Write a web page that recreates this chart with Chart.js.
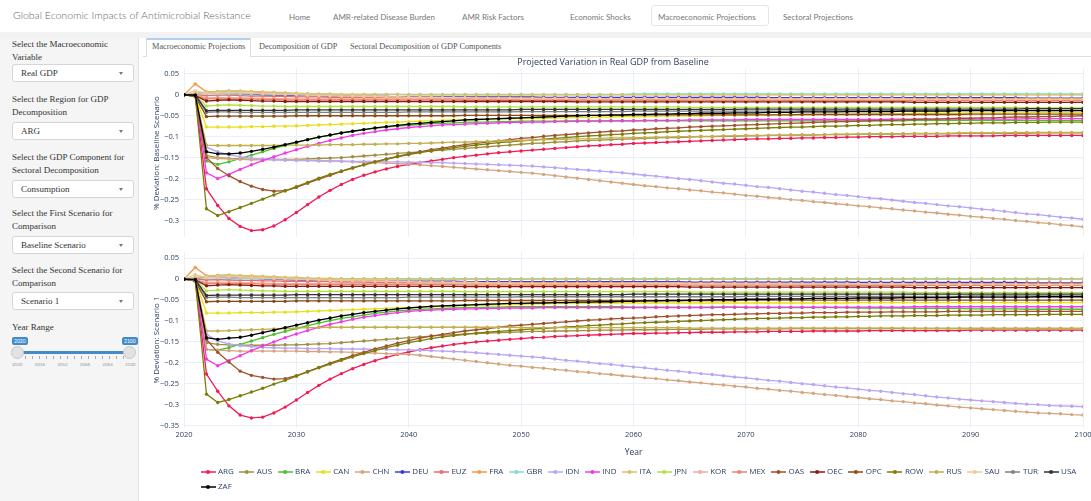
<!DOCTYPE html>
<html><head><meta charset="utf-8">
<script src="https://cdn.jsdelivr.net/npm/chart.js@4.4.1/dist/chart.umd.min.js"></script>
<style>
*{box-sizing:border-box}
html,body{margin:0;padding:0;background:#fff;width:1091px;height:501px;overflow:hidden;position:relative}
.a{position:absolute;white-space:nowrap}
#brand{left:13px;top:9px;font-family:Lato,sans-serif;font-weight:300;font-size:10.5px;color:#666}
.nv{top:12px;font-family:Lato,sans-serif;font-size:8px;color:#777}
#navact{left:651px;top:5px;width:118px;height:21px;border:1px solid #e6e6e6;border-radius:3px;background:#fff}
#band{left:0;top:32px;width:1091px;height:6px;background:#f2f2f2}
#side{left:0;top:38px;width:139px;height:463px;background:#f5f5f5;border-right:1px solid #e3e3e3}
.lb{left:12px;font-family:'Liberation Serif',serif;font-size:9px;color:#333}
.sl{left:12px;width:122px;height:18px;background:#fff;border:1px solid #d6d6d6;border-radius:3px;font-family:'Liberation Serif',serif;font-size:9px;color:#333;padding:3px 0 0 8px}
.sl:after{content:'';position:absolute;right:10px;top:7px;border-left:2.5px solid transparent;border-right:2.5px solid transparent;border-top:3px solid #777}
.tab{top:42px;font-family:'Liberation Serif',serif;font-size:8.3px;color:#555}
#tabline{left:143px;top:56px;width:948px;height:1px;background:#ddd}
#tabact{left:146px;top:38px;width:105px;height:19px;background:#fff;border:1px solid #ddd;border-top:2px solid #b5d0ea;border-bottom:none}
.sv{font-family:Lato,sans-serif;font-size:5px;color:#fff;background:#428bca;border-radius:2px;padding:0 2px;height:8px;line-height:8px;top:337px}
</style></head>
<body>
<div class="a" id="brand">Global Economic Impacts of Antimicrobial Resistance</div>
<div class="a nv" style="left:289px">Home</div>
<div class="a nv" style="left:333px">AMR-related Disease Burden</div>
<div class="a nv" style="left:462px">AMR Risk Factors</div>
<div class="a nv" style="left:570px">Economic Shocks</div>
<div class="a" id="navact"></div>
<div class="a nv" style="left:658px">Macroeconomic Projections</div>
<div class="a nv" style="left:783px">Sectoral Projections</div>
<div class="a" id="band"></div>
<div class="a" id="side"></div>
<div class="a lb" style="top:39px">Select the Macroeconomic</div>
<div class="a lb" style="top:52px">Variable</div>
<div class="a sl" style="top:64px">Real GDP</div>
<div class="a lb" style="top:94px">Select the Region for GDP</div>
<div class="a lb" style="top:107px">Decomposition</div>
<div class="a sl" style="top:122px">ARG</div>
<div class="a lb" style="top:152px">Select the GDP Component for</div>
<div class="a lb" style="top:165px">Sectoral Decomposition</div>
<div class="a sl" style="top:180px">Consumption</div>
<div class="a lb" style="top:208px">Select the First Scenario for</div>
<div class="a lb" style="top:221px">Comparison</div>
<div class="a sl" style="top:236px">Baseline Scenario</div>
<div class="a lb" style="top:265px">Select the Second Scenario for</div>
<div class="a lb" style="top:278px">Comparison</div>
<div class="a sl" style="top:292px">Scenario 1</div>
<div class="a lb" style="top:322px">Year Range</div>
<div class="a sv" style="left:12px">2020</div>
<div class="a sv" style="left:122px">2100</div>
<div class="a" style="left:18px;top:351px;width:112px;height:3px;background:#428bca;border-radius:2px"></div>
<div class="a" style="left:18px;top:356px;width:113px;height:3px;background:repeating-linear-gradient(90deg,#aaa 0 1px,transparent 1px 7px)"></div>
<div class="a" style="left:11px;top:346px;width:13px;height:13px;border-radius:50%;background:#e2e2e2;border:1px solid #c8c8c8"></div>
<div class="a" style="left:123px;top:346px;width:13px;height:13px;border-radius:50%;background:#e2e2e2;border:1px solid #c8c8c8"></div>
<div class="a" style="left:12px;top:362px;font-family:Lato,sans-serif;font-size:4.5px;color:#999;word-spacing:11px">2020 2036 2052 2068 2084 2100</div>
<div class="a" id="tabline"></div>
<div class="a" id="tabact"></div>
<div class="a tab" style="left:152px">Macroeconomic Projections</div>
<div class="a tab" style="left:259px">Decomposition of GDP</div>
<div class="a tab" style="left:350px">Sectoral Decomposition of GDP Components</div>
<canvas id="c1" class="a" style="left:143px;top:53px" width="948" height="186"></canvas>
<canvas id="c2" class="a" style="left:143px;top:247px" width="948" height="254"></canvas>
<script>
const years=[2020,2021,2022,2023,2024,2025,2026,2027,2028,2029,2030,2031,2032,2033,2034,2035,2036,2037,2038,2039,2040,2041,2042,2043,2044,2045,2046,2047,2048,2049,2050,2051,2052,2053,2054,2055,2056,2057,2058,2059,2060,2061,2062,2063,2064,2065,2066,2067,2068,2069,2070,2071,2072,2073,2074,2075,2076,2077,2078,2079,2080,2081,2082,2083,2084,2085,2086,2087,2088,2089,2090,2091,2092,2093,2094,2095,2096,2097,2098,2099,2100];
const countries=['ARG','AUS','BRA','CAN','CHN','DEU','EUZ','FRA','GBR','IDN','IND','ITA','JPN','KOR','MEX','OAS','OEC','OPC','ROW','RUS','SAU','TUR','USA','ZAF'];
const colors=['#f21c55','#a08f42','#4cbf2c','#e6df1a','#d6a57e','#3a3ae0','#e66e6e','#f09a4a','#7fdccb','#b9a6f5','#f03ce6','#d6c26a','#b5e040','#f5aaa0','#e3896a','#a0522d','#8b1a10','#8b4a13','#7b7d08','#c2b04e','#f2c49e','#7f7f7f','#333333','#000000'];
const xTicks=[2020,2030,2040,2050,2060,2070,2080,2090,2100];
const yTicksTop=[0.05,0,-0.05,-0.1,-0.15,-0.2,-0.25,-0.3];
const yTicksBottom=[0.05,0,-0.05,-0.1,-0.15,-0.2,-0.25,-0.3,-0.35];
const chartTitle='Projected Variation in Real GDP from Baseline';
const yTitleTop='% Deviation: Baseline Scenario';
const yTitleBottom='% Deviation: Scenario 1';
const xTitle='Year';

// ---- Baseline Scenario ----
const base_ARG=[0,-.002,-.224,-.264,-.295,-.314,-.324,-.322,-.313,-.298,
-.281,-.262,-.244,-.228,-.214,-.202,-.192,-.184,-.177,-.171,
-.166,-.162,-.158,-.154,-.150,-.147,-.144,-.141,-.138,-.136,
-.134,-.132,-.130,-.128,-.126,-.124,-.122,-.121,-.119,-.118,
-.116,-.115,-.114,-.113,-.112,-.111,-.110,-.109,-.108,-.107,
-.106,-.105,-.105,-.104,-.104,-.103,-.103,-.102,-.102,-.101,
-.101,-.100,-.100,-.100,-.099,-.099,-.099,-.099,-.098,-.098,
-.098,-.098,-.098,-.097,-.097,-.097,-.097,-.097,-.097,-.097,
-.097];
const base_AUS=[0,-.002,-.145,-.150,-.152,-.153,-.154,-.154,-.154,-.154,
-.154,-.153,-.152,-.151,-.150,-.148,-.146,-.144,-.142,-.140,
-.138,-.136,-.134,-.132,-.130,-.128,-.126,-.124,-.122,-.120,
-.118,-.116,-.115,-.113,-.112,-.110,-.109,-.108,-.107,-.106,
-.105,-.104,-.103,-.102,-.102,-.101,-.100,-.100,-.099,-.099,
-.098,-.098,-.097,-.097,-.096,-.096,-.096,-.095,-.095,-.095,
-.094,-.094,-.094,-.094,-.093,-.093,-.093,-.093,-.093,-.092,
-.092,-.092,-.092,-.092,-.092,-.092,-.091,-.091,-.091,-.091,
-.091];
const base_BRA=[0,-.003,-.158,-.166,-.160,-.152,-.144,-.136,-.128,-.121,
-.114,-.107,-.101,-.096,-.091,-.087,-.083,-.080,-.077,-.075,
-.073,-.071,-.069,-.068,-.067,-.066,-.065,-.065,-.064,-.064,
-.063,-.063,-.063,-.063,-.062,-.062,-.062,-.062,-.062,-.062,
-.062,-.062,-.062,-.062,-.062,-.062,-.062,-.062,-.062,-.062,
-.062,-.062,-.062,-.062,-.062,-.062,-.062,-.062,-.062,-.062,
-.062,-.062,-.062,-.062,-.062,-.061,-.061,-.061,-.061,-.061,
-.061,-.061,-.061,-.061,-.061,-.061,-.061,-.061,-.061,-.061,
-.061];
const base_CAN=[0,-.003,-.077,-.077,-.077,-.077,-.076,-.076,-.075,-.075,
-.074,-.073,-.072,-.071,-.070,-.069,-.068,-.067,-.066,-.065,
-.064,-.063,-.062,-.061,-.060,-.060,-.059,-.058,-.058,-.057,
-.057,-.056,-.056,-.055,-.055,-.054,-.054,-.053,-.053,-.052,
-.052,-.052,-.051,-.051,-.050,-.050,-.050,-.049,-.049,-.049,
-.048,-.048,-.048,-.047,-.047,-.047,-.047,-.046,-.046,-.046,
-.046,-.045,-.045,-.045,-.045,-.044,-.044,-.044,-.044,-.044,
-.043,-.043,-.043,-.043,-.043,-.043,-.042,-.042,-.042,-.042,
-.042];
const base_CHN=[0,-.003,-.150,-.152,-.153,-.154,-.155,-.155,-.155,-.155,
-.155,-.156,-.157,-.158,-.159,-.160,-.161,-.162,-.163,-.164,
-.165,-.167,-.169,-.171,-.173,-.175,-.177,-.179,-.181,-.183,
-.185,-.187,-.190,-.193,-.196,-.199,-.202,-.205,-.208,-.211,
-.214,-.217,-.219,-.222,-.224,-.227,-.229,-.232,-.234,-.237,
-.240,-.242,-.245,-.247,-.250,-.252,-.255,-.257,-.260,-.262,
-.265,-.267,-.270,-.272,-.275,-.277,-.280,-.282,-.285,-.287,
-.290,-.292,-.295,-.297,-.300,-.302,-.305,-.307,-.310,-.312,
-.315];
const base_DEU=[0,.002,.004,.004,.003,.002,.001,0,-.001,-.001,
-.002,-.002,-.003,-.003,-.003,-.004,-.004,-.004,-.004,-.005,
-.005,-.005,-.005,-.005,-.005,-.005,-.005,-.005,-.005,-.005,
-.005,-.005,-.006,-.006,-.006,-.006,-.006,-.006,-.006,-.006,
-.006,-.006,-.006,-.006,-.006,-.006,-.006,-.006,-.006,-.006,
-.006,-.006,-.007,-.007,-.007,-.007,-.007,-.007,-.007,-.007,
-.007,-.007,-.007,-.007,-.007,-.007,-.007,-.007,-.007,-.007,
-.007,-.007,-.007,-.007,-.007,-.008,-.008,-.008,-.008,-.008,
-.008];
const base_EUZ=[0,0,-.002,-.001,-.001,-.002,-.003,-.003,-.004,-.004,
-.005,-.005,-.005,-.006,-.006,-.006,-.006,-.007,-.007,-.007,
-.007,-.007,-.008,-.008,-.008,-.008,-.008,-.008,-.008,-.008,
-.008,-.008,-.008,-.008,-.008,-.009,-.009,-.009,-.009,-.009,
-.009,-.009,-.009,-.009,-.009,-.009,-.009,-.009,-.009,-.009,
-.009,-.009,-.009,-.009,-.009,-.010,-.010,-.010,-.010,-.010,
-.010,-.010,-.010,-.010,-.010,-.010,-.010,-.010,-.010,-.010,
-.010,-.010,-.010,-.010,-.010,-.010,-.010,-.010,-.010,-.010,
-.010];
const base_FRA=[0,.026,.007,.008,.009,.008,.007,.005,.004,.003,
.001,0,-.001,-.002,-.003,-.003,-.004,-.004,-.005,-.005,
-.006,-.006,-.006,-.007,-.007,-.007,-.007,-.008,-.008,-.008,
-.008,-.008,-.009,-.009,-.009,-.009,-.009,-.009,-.009,-.009,
-.009,-.009,-.009,-.009,-.009,-.010,-.010,-.010,-.010,-.010,
-.010,-.010,-.010,-.010,-.010,-.010,-.010,-.010,-.010,-.010,
-.010,-.010,-.010,-.010,-.010,-.010,-.010,-.010,-.010,-.010,
-.010,-.010,-.010,-.010,-.010,-.010,-.010,-.010,-.010,-.010,
-.010];
const base_GBR=[0,.003,.003,.003,.003,.002,.002,.002,.001,.001,
.001,.001,.001,.001,.001,.001,.001,.001,.001,.001,
.001,.001,.001,.001,.001,.001,.001,.001,.001,.001,
.001,.001,.001,.001,.001,.001,.001,.001,.001,.001,
.002,.002,.002,.002,.002,.002,.002,.002,.002,.002,
.002,.002,.002,.002,.002,.002,.002,.002,.002,.002,
.002,.002,.002,.002,.002,.002,.002,.002,.002,.002,
.002,.002,.002,.002,.002,.002,.002,.002,.002,.002,
.002];
const base_IDN=[0,-.002,-.125,-.136,-.143,-.148,-.151,-.153,-.155,-.156,
-.157,-.157,-.158,-.158,-.158,-.159,-.159,-.159,-.160,-.160,
-.161,-.161,-.162,-.162,-.163,-.164,-.165,-.166,-.167,-.168,
-.169,-.170,-.172,-.174,-.176,-.178,-.180,-.182,-.184,-.186,
-.189,-.192,-.194,-.197,-.200,-.202,-.205,-.208,-.211,-.213,
-.216,-.219,-.221,-.224,-.227,-.230,-.232,-.235,-.238,-.240,
-.243,-.246,-.248,-.251,-.254,-.257,-.259,-.262,-.265,-.267,
-.270,-.273,-.275,-.278,-.281,-.284,-.286,-.289,-.292,-.294,
-.297];
const base_IND=[0,-.002,-.186,-.200,-.190,-.178,-.167,-.157,-.148,-.139,
-.131,-.123,-.116,-.109,-.103,-.097,-.092,-.088,-.084,-.081,
-.078,-.076,-.074,-.072,-.071,-.070,-.069,-.068,-.067,-.066,
-.066,-.065,-.065,-.064,-.064,-.063,-.063,-.063,-.062,-.062,
-.062,-.061,-.061,-.061,-.061,-.060,-.060,-.060,-.060,-.060,
-.059,-.059,-.059,-.059,-.059,-.059,-.059,-.059,-.059,-.059,
-.059,-.059,-.059,-.058,-.058,-.058,-.058,-.058,-.058,-.058,
-.058,-.058,-.058,-.058,-.058,-.057,-.057,-.057,-.057,-.057,
-.057];
const base_ITA=[0,.004,.006,.008,.009,.009,.008,.007,.006,.005,
.004,.003,.002,.002,.001,.001,.001,.001,.001,.001,
0,0,0,0,0,0,0,0,0,0,
0,0,0,0,0,0,0,0,0,0,
0,0,0,0,0,0,0,0,0,0,
0,0,0,0,0,0,0,0,0,0,
0,0,0,0,0,0,0,0,0,0,
0,0,0,0,0,0,0,0,0,0,
0];
const base_JPN=[0,-.001,-.027,-.025,-.024,-.025,-.026,-.027,-.027,-.028,
-.028,-.028,-.028,-.028,-.028,-.028,-.028,-.028,-.028,-.028,
-.028,-.028,-.028,-.028,-.028,-.029,-.029,-.029,-.029,-.029,
-.029,-.029,-.029,-.029,-.029,-.029,-.029,-.029,-.029,-.029,
-.029,-.029,-.029,-.029,-.029,-.030,-.030,-.030,-.030,-.030,
-.030,-.030,-.030,-.030,-.030,-.030,-.030,-.030,-.030,-.030,
-.030,-.030,-.030,-.030,-.030,-.030,-.030,-.030,-.030,-.030,
-.030,-.030,-.030,-.030,-.030,-.031,-.031,-.031,-.031,-.031,
-.031];
const base_KOR=[0,-.001,-.007,-.006,-.006,-.007,-.008,-.008,-.009,-.009,
-.010,-.010,-.010,-.010,-.010,-.010,-.010,-.010,-.010,-.010,
-.010,-.010,-.010,-.010,-.010,-.011,-.011,-.011,-.011,-.011,
-.011,-.011,-.011,-.011,-.011,-.011,-.011,-.011,-.011,-.011,
-.011,-.011,-.011,-.011,-.011,-.012,-.012,-.012,-.012,-.012,
-.012,-.012,-.012,-.012,-.012,-.012,-.012,-.012,-.012,-.012,
-.012,-.012,-.012,-.012,-.012,-.012,-.012,-.012,-.012,-.012,
-.012,-.012,-.012,-.012,-.012,-.013,-.013,-.013,-.013,-.013,
-.013];
const base_MEX=[0,-.002,-.010,-.009,-.009,-.010,-.010,-.011,-.011,-.012,
-.012,-.012,-.012,-.012,-.012,-.012,-.012,-.012,-.012,-.012,
-.012,-.012,-.012,-.012,-.012,-.013,-.013,-.013,-.013,-.013,
-.013,-.013,-.013,-.013,-.013,-.013,-.013,-.013,-.013,-.013,
-.013,-.013,-.013,-.013,-.013,-.013,-.013,-.013,-.013,-.013,
-.013,-.013,-.013,-.013,-.013,-.014,-.014,-.014,-.014,-.014,
-.014,-.014,-.014,-.014,-.014,-.014,-.014,-.014,-.014,-.014,
-.014,-.014,-.014,-.014,-.014,-.014,-.014,-.014,-.014,-.014,
-.014];
const base_OAS=[0,-.004,-.150,-.176,-.193,-.207,-.218,-.226,-.230,-.229,
-.221,-.211,-.201,-.192,-.183,-.175,-.167,-.160,-.153,-.147,
-.141,-.136,-.131,-.127,-.123,-.119,-.116,-.113,-.110,-.107,
-.104,-.102,-.099,-.097,-.095,-.093,-.091,-.089,-.087,-.086,
-.084,-.083,-.081,-.080,-.079,-.077,-.076,-.075,-.074,-.073,
-.072,-.071,-.070,-.069,-.068,-.067,-.066,-.065,-.064,-.064,
-.063,-.062,-.061,-.061,-.060,-.059,-.058,-.058,-.057,-.056,
-.056,-.055,-.055,-.054,-.053,-.053,-.052,-.052,-.051,-.051,
-.050];
const base_OEC=[0,-.002,-.015,-.013,-.012,-.013,-.014,-.015,-.015,-.016,
-.016,-.016,-.016,-.016,-.016,-.016,-.016,-.016,-.016,-.016,
-.016,-.016,-.016,-.016,-.016,-.016,-.016,-.016,-.016,-.016,
-.016,-.016,-.016,-.016,-.016,-.017,-.017,-.017,-.017,-.017,
-.017,-.017,-.017,-.017,-.017,-.017,-.017,-.017,-.017,-.017,
-.017,-.017,-.017,-.017,-.017,-.017,-.017,-.017,-.017,-.017,
-.017,-.017,-.017,-.017,-.017,-.018,-.018,-.018,-.018,-.018,
-.018,-.018,-.018,-.018,-.018,-.018,-.018,-.018,-.018,-.018,
-.018];
const base_OPC=[0,-.004,-.052,-.051,-.051,-.051,-.051,-.051,-.051,-.051,
-.050,-.050,-.050,-.050,-.050,-.050,-.050,-.050,-.050,-.050,
-.050,-.050,-.050,-.050,-.050,-.049,-.049,-.049,-.049,-.049,
-.049,-.049,-.049,-.049,-.049,-.049,-.049,-.049,-.049,-.049,
-.048,-.048,-.048,-.048,-.048,-.048,-.048,-.048,-.048,-.048,
-.048,-.048,-.048,-.048,-.048,-.047,-.047,-.047,-.047,-.047,
-.047,-.047,-.047,-.047,-.047,-.047,-.047,-.047,-.047,-.047,
-.046,-.046,-.046,-.046,-.046,-.046,-.046,-.046,-.046,-.046,
-.046];
const base_ROW=[0,-.003,-.272,-.288,-.279,-.269,-.259,-.249,-.239,-.229,
-.219,-.209,-.199,-.190,-.182,-.174,-.167,-.160,-.154,-.148,
-.143,-.138,-.134,-.130,-.126,-.123,-.120,-.117,-.114,-.112,
-.110,-.108,-.106,-.104,-.102,-.100,-.098,-.097,-.095,-.094,
-.092,-.091,-.090,-.088,-.087,-.086,-.085,-.084,-.083,-.082,
-.081,-.080,-.079,-.078,-.077,-.077,-.076,-.075,-.075,-.074,
-.073,-.073,-.072,-.071,-.071,-.070,-.070,-.069,-.069,-.068,
-.068,-.067,-.067,-.067,-.066,-.066,-.066,-.065,-.065,-.065,
-.065];
const base_RUS=[0,-.002,-.120,-.121,-.121,-.121,-.121,-.121,-.121,-.120,
-.120,-.120,-.120,-.119,-.119,-.119,-.118,-.118,-.117,-.117,
-.116,-.116,-.115,-.114,-.113,-.113,-.112,-.111,-.110,-.110,
-.109,-.108,-.107,-.107,-.106,-.105,-.105,-.104,-.103,-.103,
-.102,-.102,-.101,-.101,-.100,-.100,-.099,-.099,-.098,-.098,
-.097,-.097,-.097,-.096,-.096,-.095,-.095,-.095,-.094,-.094,
-.094,-.093,-.093,-.093,-.093,-.092,-.092,-.092,-.092,-.091,
-.091,-.091,-.091,-.091,-.090,-.090,-.090,-.090,-.090,-.090,
-.090];
const base_SAU=[0,.010,.004,.005,.006,.005,.004,.003,.002,.001,
0,-.001,-.002,-.002,-.003,-.003,-.004,-.004,-.005,-.005,
-.006,-.006,-.006,-.007,-.007,-.007,-.008,-.008,-.008,-.008,
-.009,-.009,-.009,-.009,-.009,-.009,-.009,-.009,-.009,-.009,
-.009,-.009,-.009,-.009,-.009,-.010,-.010,-.010,-.010,-.010,
-.010,-.010,-.010,-.010,-.010,-.010,-.010,-.010,-.010,-.010,
-.010,-.010,-.010,-.010,-.010,-.011,-.011,-.011,-.011,-.011,
-.011,-.011,-.011,-.011,-.011,-.011,-.011,-.011,-.011,-.011,
-.011];
const base_TUR=[0,-.002,-.042,-.041,-.041,-.042,-.042,-.042,-.042,-.042,
-.042,-.042,-.042,-.042,-.042,-.042,-.042,-.042,-.042,-.042,
-.041,-.041,-.041,-.041,-.041,-.041,-.041,-.041,-.041,-.041,
-.040,-.040,-.040,-.040,-.040,-.040,-.040,-.040,-.040,-.040,
-.039,-.039,-.039,-.039,-.039,-.039,-.039,-.039,-.039,-.039,
-.039,-.039,-.039,-.039,-.039,-.038,-.038,-.038,-.038,-.038,
-.038,-.038,-.038,-.038,-.038,-.038,-.038,-.038,-.038,-.038,
-.037,-.037,-.037,-.037,-.037,-.037,-.037,-.037,-.037,-.037,
-.037];
const base_USA=[0,-.001,-.038,-.037,-.037,-.037,-.037,-.037,-.037,-.037,
-.036,-.036,-.036,-.036,-.036,-.036,-.036,-.036,-.036,-.036,
-.036,-.036,-.036,-.036,-.036,-.036,-.036,-.036,-.036,-.036,
-.035,-.035,-.035,-.035,-.035,-.035,-.035,-.035,-.035,-.035,
-.035,-.035,-.035,-.035,-.035,-.035,-.035,-.035,-.035,-.035,
-.034,-.034,-.034,-.034,-.034,-.034,-.034,-.034,-.034,-.034,
-.034,-.034,-.034,-.034,-.034,-.034,-.034,-.034,-.034,-.034,
-.034,-.034,-.034,-.034,-.034,-.033,-.033,-.033,-.033,-.033,
-.033];
const base_ZAF=[0,-.001,-.136,-.141,-.141,-.139,-.135,-.130,-.125,-.119,
-.113,-.107,-.101,-.096,-.091,-.087,-.083,-.079,-.076,-.073,
-.070,-.068,-.066,-.064,-.062,-.060,-.059,-.058,-.057,-.056,
-.055,-.054,-.053,-.052,-.051,-.050,-.049,-.049,-.048,-.048,
-.047,-.047,-.046,-.046,-.045,-.045,-.044,-.044,-.044,-.043,
-.043,-.043,-.042,-.042,-.042,-.041,-.041,-.041,-.041,-.040,
-.040,-.040,-.040,-.040,-.039,-.039,-.039,-.039,-.039,-.038,
-.038,-.038,-.038,-.038,-.038,-.038,-.038,-.038,-.038,-.038,
-.038];

// ---- Scenario 1 ----
const s1_ARG=[0,-.002,-.227,-.268,-.303,-.325,-.332,-.330,-.320,-.306,
-.289,-.271,-.254,-.239,-.226,-.214,-.204,-.195,-.187,-.180,
-.174,-.169,-.164,-.160,-.156,-.153,-.150,-.148,-.146,-.144,
-.142,-.140,-.139,-.137,-.136,-.135,-.134,-.133,-.132,-.131,
-.130,-.130,-.129,-.129,-.128,-.128,-.127,-.127,-.127,-.126,
-.126,-.126,-.125,-.125,-.125,-.125,-.124,-.124,-.124,-.124,
-.124,-.123,-.123,-.123,-.123,-.123,-.123,-.123,-.123,-.123,
-.122,-.122,-.122,-.122,-.122,-.122,-.122,-.122,-.122,-.122,
-.122];
const s1_AUS=[0,-.002,-.152,-.156,-.157,-.158,-.158,-.158,-.158,-.157,
-.157,-.156,-.155,-.154,-.152,-.150,-.148,-.146,-.144,-.142,
-.140,-.138,-.136,-.134,-.133,-.131,-.130,-.129,-.128,-.127,
-.126,-.125,-.125,-.124,-.124,-.123,-.123,-.122,-.122,-.122,
-.121,-.121,-.121,-.120,-.120,-.120,-.120,-.119,-.119,-.119,
-.119,-.119,-.119,-.119,-.118,-.118,-.118,-.118,-.118,-.118,
-.118,-.118,-.118,-.118,-.118,-.118,-.118,-.118,-.118,-.118,
-.118,-.118,-.118,-.118,-.118,-.118,-.118,-.118,-.118,-.118,
-.118];
const s1_BRA=[0,-.003,-.168,-.170,-.164,-.156,-.148,-.140,-.132,-.125,
-.118,-.111,-.105,-.099,-.094,-.090,-.086,-.082,-.079,-.076,
-.074,-.072,-.071,-.070,-.069,-.068,-.068,-.067,-.067,-.066,
-.066,-.066,-.066,-.066,-.066,-.066,-.066,-.066,-.066,-.066,
-.067,-.067,-.067,-.067,-.067,-.067,-.067,-.067,-.067,-.067,
-.068,-.068,-.068,-.068,-.068,-.068,-.068,-.068,-.068,-.068,
-.069,-.069,-.069,-.069,-.069,-.070,-.070,-.070,-.070,-.070,
-.071,-.071,-.071,-.071,-.071,-.072,-.072,-.072,-.072,-.072,
-.072];
const s1_CAN=[0,-.003,-.081,-.081,-.081,-.080,-.080,-.080,-.079,-.079,
-.078,-.077,-.076,-.075,-.074,-.073,-.072,-.071,-.070,-.069,
-.068,-.067,-.066,-.065,-.064,-.063,-.062,-.062,-.061,-.060,
-.060,-.059,-.059,-.058,-.058,-.058,-.057,-.057,-.057,-.057,
-.057,-.057,-.057,-.057,-.057,-.057,-.057,-.057,-.057,-.057,
-.057,-.057,-.057,-.057,-.057,-.057,-.057,-.057,-.057,-.057,
-.056,-.056,-.056,-.056,-.056,-.056,-.056,-.056,-.056,-.056,
-.056,-.056,-.056,-.056,-.056,-.056,-.056,-.056,-.056,-.056,
-.056];
const s1_CHN=[0,-.003,-.168,-.170,-.171,-.172,-.172,-.172,-.172,-.172,
-.172,-.173,-.173,-.174,-.174,-.175,-.176,-.177,-.178,-.179,
-.180,-.182,-.185,-.188,-.191,-.194,-.197,-.200,-.203,-.206,
-.208,-.211,-.213,-.216,-.218,-.221,-.223,-.226,-.228,-.231,
-.233,-.236,-.238,-.241,-.243,-.246,-.248,-.251,-.253,-.256,
-.258,-.261,-.263,-.266,-.268,-.271,-.273,-.276,-.278,-.281,
-.283,-.286,-.288,-.291,-.293,-.296,-.298,-.301,-.303,-.306,
-.308,-.310,-.312,-.314,-.316,-.318,-.320,-.321,-.322,-.324,
-.325];
const s1_DEU=[0,.002,.005,.005,.004,.003,.002,.001,0,-.001,
-.002,-.002,-.003,-.003,-.004,-.004,-.004,-.005,-.005,-.005,
-.005,-.005,-.005,-.005,-.005,-.006,-.006,-.006,-.006,-.006,
-.006,-.006,-.006,-.006,-.006,-.006,-.006,-.006,-.006,-.006,
-.006,-.006,-.006,-.006,-.006,-.007,-.007,-.007,-.007,-.007,
-.007,-.007,-.007,-.007,-.007,-.007,-.007,-.007,-.007,-.007,
-.008,-.008,-.008,-.008,-.008,-.008,-.008,-.008,-.008,-.008,
-.008,-.008,-.008,-.008,-.008,-.009,-.009,-.009,-.009,-.009,
-.009];
const s1_EUZ=[0,0,-.002,-.001,-.002,-.003,-.003,-.004,-.004,-.005,
-.005,-.006,-.006,-.006,-.007,-.007,-.007,-.008,-.008,-.008,
-.008,-.008,-.008,-.008,-.008,-.009,-.009,-.009,-.009,-.009,
-.009,-.009,-.009,-.009,-.009,-.009,-.009,-.009,-.009,-.009,
-.010,-.010,-.010,-.010,-.010,-.010,-.010,-.010,-.010,-.010,
-.010,-.010,-.010,-.010,-.010,-.011,-.011,-.011,-.011,-.011,
-.011,-.011,-.011,-.011,-.011,-.011,-.011,-.011,-.011,-.011,
-.011,-.011,-.011,-.011,-.011,-.011,-.011,-.011,-.011,-.011,
-.011];
const s1_FRA=[0,.028,.008,.009,.009,.008,.007,.005,.004,.002,
.001,0,-.001,-.002,-.003,-.004,-.004,-.005,-.005,-.006,
-.006,-.007,-.007,-.007,-.008,-.008,-.008,-.009,-.009,-.009,
-.009,-.009,-.009,-.009,-.009,-.010,-.010,-.010,-.010,-.010,
-.010,-.010,-.010,-.010,-.010,-.010,-.010,-.010,-.010,-.010,
-.011,-.011,-.011,-.011,-.011,-.011,-.011,-.011,-.011,-.011,
-.011,-.011,-.011,-.011,-.011,-.012,-.012,-.012,-.012,-.012,
-.012,-.012,-.012,-.012,-.012,-.012,-.012,-.012,-.012,-.012,
-.012];
const s1_GBR=[0,.003,.003,.003,.003,.002,.002,.002,.001,.001,
.001,.001,.001,.001,.001,.001,.001,.001,.001,.001,
.001,.001,.001,.001,.001,.001,.001,.001,.001,.001,
.001,.001,.001,.001,.001,.001,.001,.001,.001,.001,
.001,.001,.001,.001,.001,.001,.001,.001,.001,.001,
.001,.001,.001,.001,.001,.001,.001,.001,.001,.001,
.001,.001,.001,.001,.001,.001,.001,.001,.001,.001,
.001,.001,.001,.001,.001,.001,.001,.001,.001,.001,
.001];
const s1_IDN=[0,-.002,-.132,-.148,-.155,-.159,-.161,-.163,-.164,-.165,
-.165,-.166,-.166,-.166,-.167,-.167,-.167,-.168,-.168,-.169,
-.169,-.170,-.171,-.172,-.173,-.174,-.176,-.178,-.180,-.182,
-.184,-.186,-.188,-.191,-.194,-.196,-.199,-.202,-.204,-.207,
-.210,-.212,-.215,-.218,-.220,-.223,-.226,-.228,-.231,-.234,
-.236,-.239,-.242,-.244,-.247,-.250,-.252,-.255,-.258,-.260,
-.263,-.266,-.268,-.271,-.274,-.276,-.279,-.282,-.284,-.287,
-.289,-.291,-.293,-.295,-.297,-.299,-.300,-.302,-.303,-.304,
-.305];
const s1_IND=[0,-.002,-.191,-.207,-.195,-.183,-.171,-.160,-.150,-.140,
-.131,-.123,-.115,-.108,-.102,-.096,-.091,-.087,-.083,-.080,
-.077,-.075,-.074,-.073,-.072,-.071,-.071,-.070,-.070,-.069,
-.069,-.069,-.068,-.068,-.068,-.068,-.068,-.068,-.068,-.068,
-.068,-.068,-.068,-.068,-.068,-.068,-.068,-.068,-.067,-.067,
-.067,-.067,-.067,-.067,-.067,-.067,-.067,-.067,-.067,-.067,
-.067,-.067,-.067,-.067,-.067,-.066,-.066,-.066,-.066,-.066,
-.066,-.066,-.066,-.066,-.066,-.066,-.066,-.066,-.066,-.066,
-.066];
const s1_ITA=[0,.004,.007,.009,.010,.009,.008,.007,.006,.005,
.004,.003,.002,.002,.001,.001,.001,.001,.001,.001,
0,0,0,0,0,0,0,0,0,0,
0,0,0,0,0,0,0,0,0,0,
0,0,0,0,0,0,0,0,0,0,
0,0,0,0,0,0,0,0,0,0,
0,0,0,0,0,0,0,0,0,0,
0,0,0,0,0,0,0,0,0,0,
0];
const s1_JPN=[0,-.001,-.028,-.026,-.025,-.026,-.027,-.028,-.028,-.029,
-.029,-.029,-.029,-.029,-.029,-.029,-.029,-.029,-.029,-.029,
-.029,-.029,-.029,-.029,-.029,-.030,-.030,-.030,-.030,-.030,
-.030,-.030,-.030,-.030,-.030,-.030,-.030,-.030,-.030,-.030,
-.030,-.030,-.030,-.030,-.030,-.031,-.031,-.031,-.031,-.031,
-.031,-.031,-.031,-.031,-.031,-.031,-.031,-.031,-.031,-.031,
-.031,-.031,-.031,-.031,-.031,-.032,-.032,-.032,-.032,-.032,
-.032,-.032,-.032,-.032,-.032,-.032,-.032,-.032,-.032,-.032,
-.032];
const s1_KOR=[0,-.001,-.008,-.007,-.007,-.008,-.009,-.009,-.010,-.010,
-.011,-.011,-.011,-.011,-.011,-.011,-.011,-.011,-.011,-.011,
-.011,-.011,-.011,-.011,-.011,-.012,-.012,-.012,-.012,-.012,
-.012,-.012,-.012,-.012,-.012,-.012,-.012,-.012,-.012,-.012,
-.012,-.012,-.012,-.012,-.012,-.013,-.013,-.013,-.013,-.013,
-.013,-.013,-.013,-.013,-.013,-.013,-.013,-.013,-.013,-.013,
-.013,-.013,-.013,-.013,-.013,-.014,-.014,-.014,-.014,-.014,
-.014,-.014,-.014,-.014,-.014,-.014,-.014,-.014,-.014,-.014,
-.014];
const s1_MEX=[0,-.002,-.011,-.010,-.010,-.011,-.011,-.012,-.012,-.013,
-.013,-.013,-.013,-.013,-.013,-.013,-.013,-.013,-.013,-.013,
-.013,-.013,-.013,-.013,-.013,-.014,-.014,-.014,-.014,-.014,
-.014,-.014,-.014,-.014,-.014,-.014,-.014,-.014,-.014,-.014,
-.014,-.014,-.014,-.014,-.014,-.014,-.014,-.014,-.014,-.014,
-.014,-.014,-.014,-.014,-.014,-.015,-.015,-.015,-.015,-.015,
-.015,-.015,-.015,-.015,-.015,-.015,-.015,-.015,-.015,-.015,
-.015,-.015,-.015,-.015,-.015,-.015,-.015,-.015,-.015,-.015,
-.015];
const s1_OAS=[0,-.004,-.144,-.175,-.198,-.220,-.230,-.235,-.239,-.238,
-.231,-.221,-.211,-.201,-.192,-.183,-.175,-.167,-.160,-.153,
-.147,-.141,-.136,-.132,-.128,-.124,-.121,-.118,-.115,-.112,
-.110,-.108,-.106,-.104,-.102,-.100,-.098,-.097,-.095,-.094,
-.093,-.092,-.090,-.089,-.088,-.087,-.086,-.085,-.085,-.084,
-.083,-.083,-.082,-.082,-.081,-.081,-.080,-.080,-.080,-.079,
-.079,-.079,-.079,-.078,-.078,-.078,-.078,-.078,-.077,-.077,
-.077,-.077,-.077,-.077,-.077,-.077,-.077,-.077,-.077,-.077,
-.077];
const s1_OEC=[0,-.002,-.016,-.014,-.013,-.014,-.015,-.016,-.016,-.017,
-.017,-.017,-.017,-.017,-.017,-.017,-.017,-.017,-.017,-.017,
-.017,-.017,-.017,-.017,-.017,-.018,-.018,-.018,-.018,-.018,
-.018,-.018,-.018,-.018,-.018,-.018,-.018,-.018,-.018,-.018,
-.018,-.018,-.018,-.018,-.018,-.019,-.019,-.019,-.019,-.019,
-.019,-.019,-.019,-.019,-.019,-.019,-.019,-.019,-.019,-.019,
-.019,-.019,-.019,-.019,-.019,-.020,-.020,-.020,-.020,-.020,
-.020,-.020,-.020,-.020,-.020,-.020,-.020,-.020,-.020,-.020,
-.020];
const s1_OPC=[0,-.004,-.054,-.053,-.053,-.053,-.053,-.053,-.053,-.053,
-.052,-.052,-.052,-.052,-.052,-.052,-.052,-.052,-.052,-.052,
-.052,-.052,-.052,-.052,-.052,-.051,-.051,-.051,-.051,-.051,
-.051,-.051,-.051,-.051,-.051,-.051,-.051,-.051,-.051,-.051,
-.051,-.051,-.051,-.051,-.051,-.051,-.051,-.051,-.051,-.051,
-.050,-.050,-.050,-.050,-.050,-.050,-.050,-.050,-.050,-.050,
-.050,-.050,-.050,-.050,-.050,-.050,-.050,-.050,-.050,-.050,
-.050,-.050,-.050,-.050,-.050,-.050,-.050,-.050,-.050,-.050,
-.050];
const s1_ROW=[0,-.003,-.275,-.295,-.288,-.279,-.270,-.261,-.251,-.242,
-.232,-.222,-.212,-.203,-.194,-.186,-.178,-.171,-.164,-.158,
-.152,-.147,-.142,-.138,-.135,-.132,-.129,-.127,-.125,-.123,
-.121,-.119,-.118,-.116,-.114,-.113,-.111,-.110,-.108,-.107,
-.105,-.104,-.103,-.102,-.101,-.100,-.099,-.098,-.097,-.096,
-.095,-.094,-.094,-.093,-.092,-.092,-.091,-.091,-.090,-.090,
-.089,-.089,-.088,-.088,-.088,-.087,-.087,-.087,-.086,-.086,
-.086,-.086,-.085,-.085,-.085,-.085,-.085,-.084,-.084,-.084,
-.084];
const s1_RUS=[0,-.002,-.124,-.124,-.123,-.122,-.121,-.120,-.119,-.118,
-.117,-.116,-.116,-.115,-.115,-.115,-.115,-.115,-.115,-.115,
-.115,-.115,-.115,-.115,-.115,-.115,-.115,-.115,-.115,-.115,
-.116,-.116,-.116,-.116,-.116,-.116,-.116,-.116,-.116,-.116,
-.116,-.116,-.116,-.116,-.116,-.117,-.117,-.117,-.117,-.117,
-.117,-.117,-.117,-.117,-.117,-.117,-.117,-.117,-.117,-.117,
-.117,-.117,-.117,-.117,-.117,-.118,-.118,-.118,-.118,-.118,
-.118,-.118,-.118,-.118,-.118,-.118,-.118,-.118,-.118,-.118,
-.118];
const s1_SAU=[0,.011,.004,.005,.006,.005,.004,.003,.002,.001,
0,-.001,-.002,-.003,-.003,-.004,-.004,-.005,-.005,-.006,
-.006,-.007,-.007,-.007,-.008,-.008,-.008,-.009,-.009,-.009,
-.010,-.010,-.010,-.010,-.010,-.010,-.010,-.010,-.010,-.010,
-.010,-.010,-.010,-.010,-.010,-.011,-.011,-.011,-.011,-.011,
-.011,-.011,-.011,-.011,-.011,-.011,-.011,-.011,-.011,-.011,
-.011,-.011,-.011,-.011,-.011,-.012,-.012,-.012,-.012,-.012,
-.012,-.012,-.012,-.012,-.012,-.013,-.013,-.013,-.013,-.013,
-.013];
const s1_TUR=[0,-.002,-.044,-.043,-.043,-.044,-.044,-.044,-.044,-.044,
-.044,-.044,-.044,-.044,-.044,-.044,-.044,-.044,-.044,-.044,
-.043,-.043,-.043,-.043,-.043,-.043,-.043,-.043,-.043,-.043,
-.042,-.042,-.042,-.042,-.042,-.042,-.042,-.042,-.042,-.042,
-.042,-.042,-.042,-.042,-.042,-.042,-.042,-.042,-.042,-.042,
-.041,-.041,-.041,-.041,-.041,-.041,-.041,-.041,-.041,-.041,
-.041,-.041,-.041,-.041,-.041,-.041,-.041,-.041,-.041,-.041,
-.040,-.040,-.040,-.040,-.040,-.040,-.040,-.040,-.040,-.040,
-.040];
const s1_USA=[0,-.001,-.039,-.038,-.038,-.038,-.038,-.038,-.038,-.038,
-.037,-.037,-.037,-.037,-.037,-.037,-.037,-.037,-.037,-.037,
-.037,-.037,-.037,-.037,-.037,-.037,-.037,-.037,-.037,-.037,
-.037,-.037,-.037,-.037,-.037,-.037,-.037,-.037,-.037,-.037,
-.036,-.036,-.036,-.036,-.036,-.036,-.036,-.036,-.036,-.036,
-.036,-.036,-.036,-.036,-.036,-.036,-.036,-.036,-.036,-.036,
-.036,-.036,-.036,-.036,-.036,-.036,-.036,-.036,-.036,-.036,
-.036,-.036,-.036,-.036,-.036,-.036,-.036,-.036,-.036,-.036,
-.036];
const s1_ZAF=[0,-.001,-.140,-.144,-.141,-.139,-.134,-.128,-.122,-.116,
-.110,-.104,-.098,-.093,-.088,-.084,-.080,-.077,-.074,-.071,
-.069,-.067,-.065,-.064,-.063,-.062,-.061,-.060,-.059,-.058,
-.058,-.057,-.057,-.056,-.056,-.055,-.055,-.054,-.054,-.053,
-.053,-.052,-.052,-.051,-.051,-.050,-.050,-.049,-.049,-.049,
-.048,-.048,-.048,-.047,-.047,-.047,-.046,-.046,-.046,-.046,
-.045,-.045,-.045,-.045,-.044,-.044,-.044,-.044,-.044,-.043,
-.043,-.043,-.043,-.043,-.043,-.043,-.042,-.042,-.042,-.042,
-.042];

const baseSeries=[base_ARG,base_AUS,base_BRA,base_CAN,base_CHN,base_DEU,base_EUZ,base_FRA,base_GBR,base_IDN,base_IND,base_ITA,base_JPN,base_KOR,base_MEX,base_OAS,base_OEC,base_OPC,base_ROW,base_RUS,base_SAU,base_TUR,base_USA,base_ZAF];
const s1Series=[s1_ARG,s1_AUS,s1_BRA,s1_CAN,s1_CHN,s1_DEU,s1_EUZ,s1_FRA,s1_GBR,s1_IDN,s1_IND,s1_ITA,s1_JPN,s1_KOR,s1_MEX,s1_OAS,s1_OEC,s1_OPC,s1_ROW,s1_RUS,s1_SAU,s1_TUR,s1_USA,s1_ZAF];

const TXT='#2a3f5f', GRID='#ebf0f8';
Chart.defaults.font.family="'Open Sans', sans-serif";
Chart.defaults.color=TXT;

function icon(c){const cv=document.createElement('canvas');cv.width=15;cv.height=6;const x=cv.getContext('2d');x.strokeStyle=c;x.lineWidth=1.5;x.beginPath();x.moveTo(0,3);x.lineTo(15,3);x.stroke();x.fillStyle=c;x.beginPath();x.arc(7.5,3,2,0,Math.PI*2);x.fill();return cv;}
const icons=colors.map(icon);

function build(series){return countries.map((c,i)=>({label:c,data:years.map((yr,j)=>({x:yr,y:series[i][j]})),borderColor:colors[i],backgroundColor:colors[i],borderWidth:1.3,pointRadius:1.7,pointBorderWidth:0,pointHoverRadius:0,tension:0,order:countries.length-i}));}
const fmt=v=>String(Math.round(v*100)/100).replace('-','\u2212');

function yScale(min,max,ticks,title){return {type:'linear',min:min,max:max,
 afterBuildTicks:s=>{s.ticks=ticks.map(v=>({value:v}));},
 afterFit:s=>{s.width=41;s.paddingTop=0;s.paddingBottom=0;},
 grid:{color:GRID,lineWidth:c=>(c.tick&&c.tick.value===0)?2:1,drawTicks:false},
 border:{display:false},
 ticks:{padding:5,autoSkip:false,font:{size:7.5},color:TXT,callback:v=>fmt(v)},
 title:{display:true,text:title,font:{size:8},color:TXT,padding:{top:9,bottom:0}}};}
function xScale(show){return {type:'linear',min:2020,max:2100,
 afterBuildTicks:s=>{s.ticks=xTicks.map(v=>({value:v}));},
 afterFit:s=>{s.height=show?33:0;s.paddingLeft=0;s.paddingRight=0;},
 grid:{color:GRID,drawTicks:false},border:{display:false},
 ticks:{display:show,padding:2,autoSkip:false,maxRotation:0,font:{size:7.5},color:TXT,callback:v=>String(v)},
 title:{display:show,text:xTitle,font:{size:8.5},color:TXT,padding:{top:0,bottom:3}}};}

// keep each plot area at the reference's pixel rows
function pinBottom(ch,want){for(let k=0;k<4;k++){const d=want-ch.chartArea.bottom;if(Math.abs(d)<0.5)break;ch.options.layout.padding.bottom-=d;ch.update('none');}}

const c1=new Chart(document.getElementById('c1'),{type:'line',data:{datasets:build(baseSeries)},
 options:{responsive:false,animation:false,devicePixelRatio:1,events:[],
  layout:{padding:{left:0,right:8,top:0,bottom:0}},
  plugins:{legend:{display:false},tooltip:{enabled:false},
   title:{display:true,text:chartTitle,font:{size:9,weight:'normal'},color:TXT,padding:{top:4,bottom:1}}},
  scales:{x:xScale(false),y:yScale(-0.34,0.062,yTicksTop,yTitleTop)}}});
pinBottom(c1,186);

// legend rows start 18px right of the plot's left edge, as in the reference
const legendShift={id:'legendShift',afterLayout(ch){const lg=ch.legend;if(!lg)return;const dx=(ch.chartArea.left+18)-(lg.left+lg.options.labels.padding);lg.left+=dx;lg.right+=dx;}};

const c2=new Chart(document.getElementById('c2'),{type:'line',data:{datasets:build(s1Series)},
 plugins:[legendShift],
 options:{responsive:false,animation:false,devicePixelRatio:1,events:[],
  layout:{padding:{left:0,right:8,top:5,bottom:0}},
  plugins:{tooltip:{enabled:false},title:{display:false},
   legend:{display:true,position:'bottom',align:'start',fullSize:false,
    labels:{usePointStyle:true,pointStyleWidth:12,boxHeight:6,padding:7,color:TXT,font:{size:8},
     generateLabels:ch=>ch.data.datasets.map((d,i)=>({text:d.label,pointStyle:icons[i],fillStyle:d.borderColor,strokeStyle:d.borderColor,lineWidth:0,hidden:false,datasetIndex:i,fontColor:TXT}))}}},
  scales:{x:xScale(true),y:yScale(-0.356,0.065,yTicksBottom,yTitleBottom)}}});
pinBottom(c2,181);
</script>
</body></html>
